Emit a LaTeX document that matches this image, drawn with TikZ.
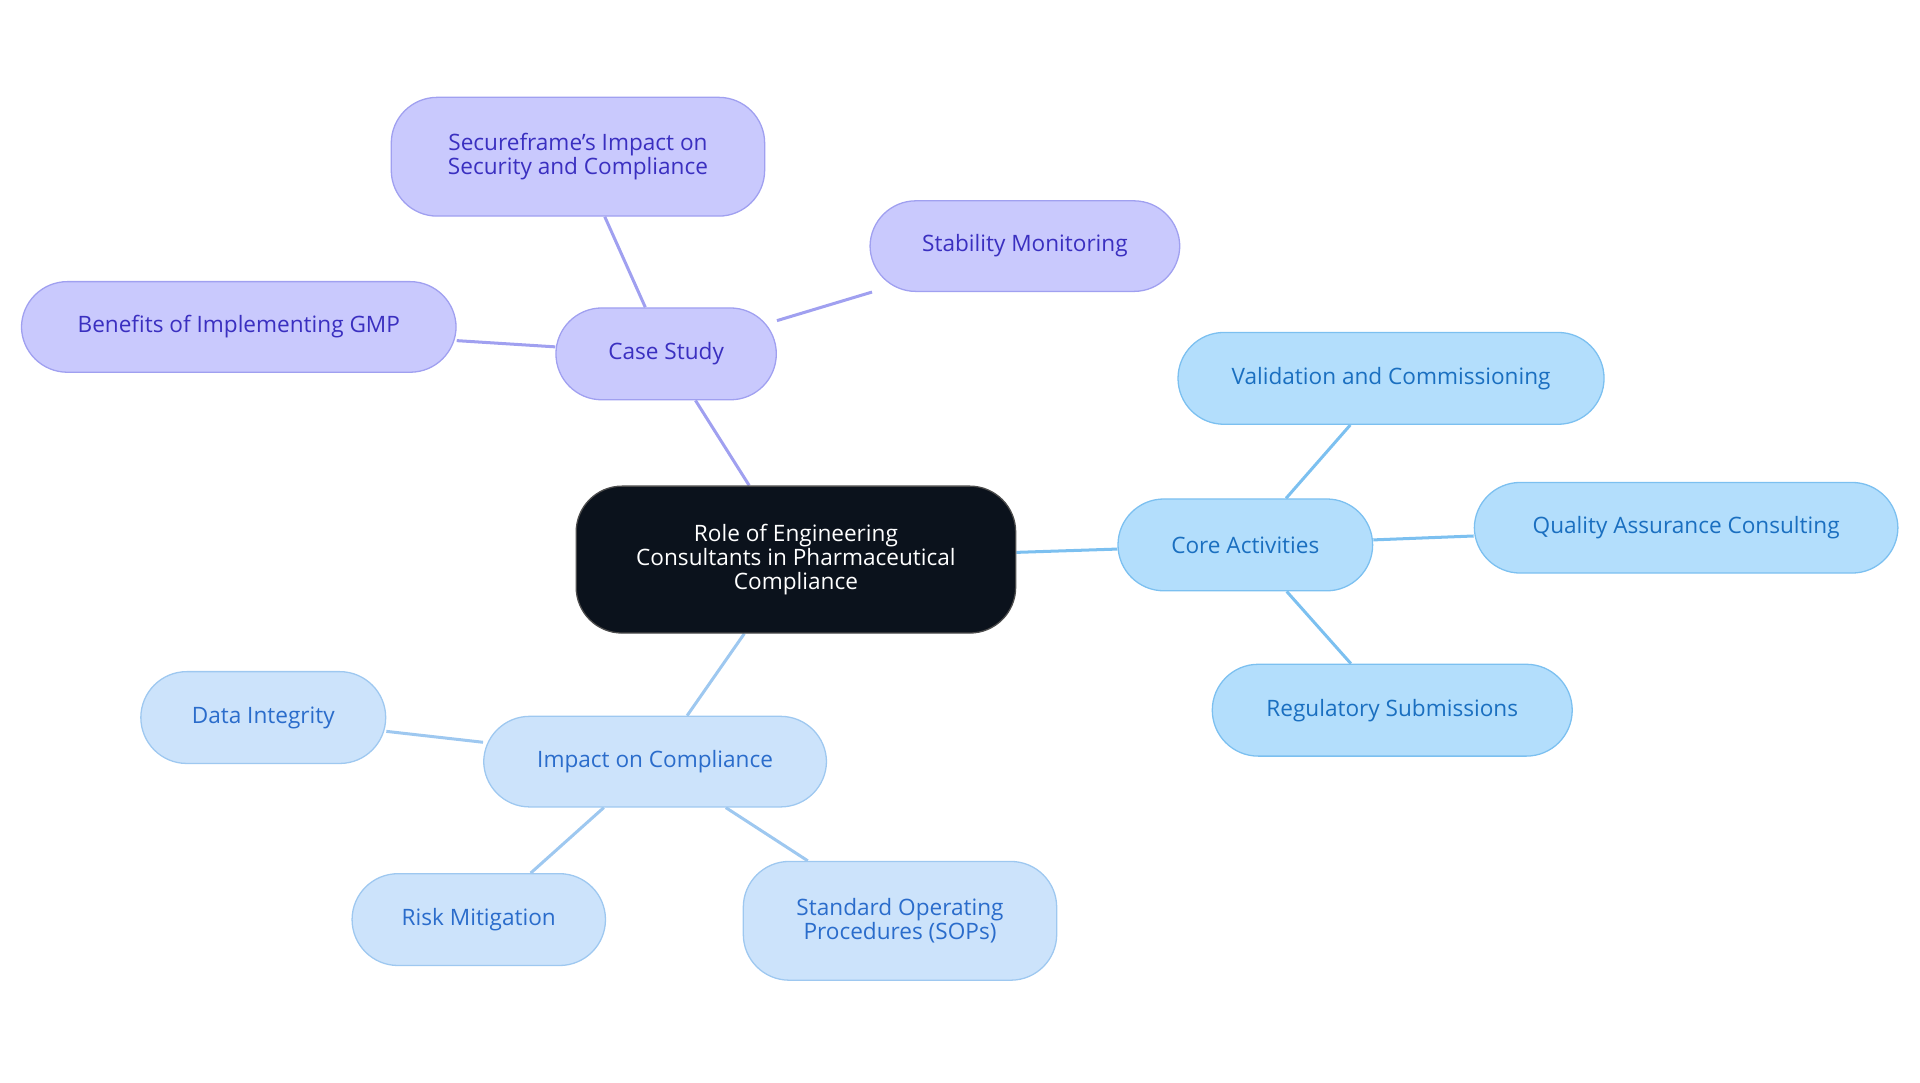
\documentclass[tikz,border=0pt]{standalone}
\usepackage{fontspec}
\setmainfont{Open Sans}
\usetikzlibrary{backgrounds}
\definecolor{cfill}{HTML}{C9C9FD}\definecolor{cline}{HTML}{A0A0F0}\definecolor{ctext}{HTML}{3A2FC0}
\definecolor{kfill}{HTML}{B3DEFC}\definecolor{kline}{HTML}{7CC0F0}\definecolor{ktext}{HTML}{1A6FC0}
\definecolor{ifill}{HTML}{CCE3FB}\definecolor{iline}{HTML}{9EC8F0}\definecolor{itext}{HTML}{2A6CCB}
\begin{document}
\begin{tikzpicture}[x=0.02cm,y=-0.02cm,font=\fontsize{10.5}{11}\selectfont,
 box/.style={draw,rounded corners=0.75cm,align=center,line width=0.6pt,inner sep=0pt},
 cs/.style={box,fill=cfill,draw=cline,text=ctext},
 ka/.style={box,fill=kfill,draw=kline,text=ktext},
 im/.style={box,fill=ifill,draw=iline,text=itext},
 e/.style={line width=1.4pt}]
\useasboundingbox (0,0) rectangle (1568,884);
\node[box,fill=black!85!blue!60!black,fill={rgb,255:red,11;green,18;blue,28},draw=gray!60!black,text=white,minimum width=7.18cm,minimum height=2.4cm] (c) at (650,457) {Role of Engineering\\Consultants in Pharmaceutical\\Compliance};
\node[cs,minimum width=3.6cm,minimum height=1.5cm] (cs) at (544,289) {Case Study};
\node[cs,minimum width=6.1cm,minimum height=1.94cm] (sf) at (472,128) {Secureframe's Impact on\\Security and Compliance};
\node[cs,minimum width=5.06cm,minimum height=1.48cm] (sm) at (837,201) {Stability Monitoring};
\node[cs,minimum width=7.1cm,minimum height=1.48cm] (bg) at (195,267) {Benefits of Implementing GMP};
\node[ka,minimum width=4.16cm,minimum height=1.5cm] (ka) at (1017,445) {Core Activities};
\node[ka,minimum width=6.96cm,minimum height=1.5cm] (va) at (1136,309) {Validation and Commissioning};
\node[ka,minimum width=6.92cm,minimum height=1.48cm] (qa) at (1377,431) {Quality Assurance Consulting};
\node[ka,minimum width=5.88cm,minimum height=1.5cm] (rs) at (1137,580) {Regulatory Submissions};
\node[im,minimum width=5.6cm,minimum height=1.48cm] (im) at (535,622) {Impact on Compliance};
\node[im,minimum width=4cm,minimum height=1.5cm] (di) at (215,586) {Data Integrity};
\node[im,minimum width=4.14cm,minimum height=1.5cm] (rm) at (391,751) {Risk Mitigation};
\node[im,minimum width=5.12cm,minimum height=1.94cm] (sop) at (735,752) {Standard Operating\\Procedures (SOPs)};
\begin{scope}[on background layer]
\draw[e,cline] (c) -- (cs); \draw[e,cline] (cs) -- (sf); \draw[e,cline] (cs) -- (sm); \draw[e,cline] (cs) -- (bg);
\draw[e,kline] (c) -- (ka); \draw[e,kline] (ka) -- (va); \draw[e,kline] (ka) -- (qa); \draw[e,kline] (ka) -- (rs);
\draw[e,iline] (c) -- (im); \draw[e,iline] (im) -- (di); \draw[e,iline] (im) -- (rm); \draw[e,iline] (im) -- (sop);
\end{scope}
\end{tikzpicture}
\end{document}
